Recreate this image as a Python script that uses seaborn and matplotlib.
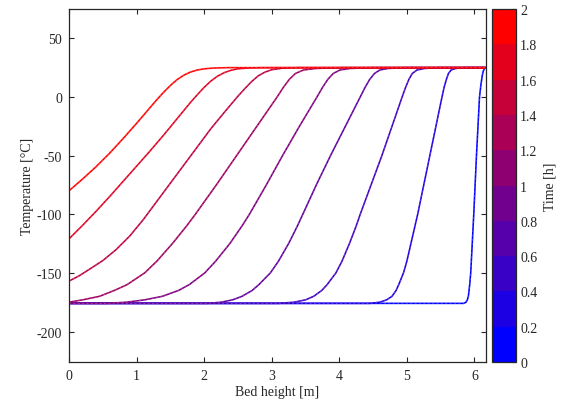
import numpy as np
import pandas as pd
import matplotlib
matplotlib.use("Agg")
import matplotlib.pyplot as plt
import seaborn as sns
from matplotlib.colors import ListedColormap, BoundaryNorm
from matplotlib.cm import ScalarMappable

# ---- data (bed height [m], temperature [degC]) ----
# curves ordered from earliest (blue) to latest (red)
x_c1 = [0.0, 5.84, 5.875, 5.895, 5.91, 5.93, 5.945, 5.99, 6.03, 6.075, 6.095, 6.115, 6.13, 6.15, 6.17]
t_c1 = [-176, -176, -175, -173, -170, -160, -150, -100, -50, 0, 10, 18, 22, 24.3, 25]

t_lv = [-176, -176, -175, -173, -170, -165, -160, -150, -140, -125, -110, -100, -75, -50, -25, 0, 8, 15, 20, 23, 24.3, 25, 25]

x_c2 = [0.0, 4.45, 4.60, 4.70, 4.78, 4.84, 4.88, 4.95, 5.00, 5.06, 5.12, 5.16, 5.25, 5.34, 5.43, 5.52, 5.55, 5.585, 5.615, 5.655, 5.72, 5.84, 6.17]
t_c2 = t_lv

x_c3 = [0.0, 3.10, 3.33, 3.50, 3.62, 3.74, 3.82, 3.95, 4.04, 4.15, 4.25, 4.31, 4.47, 4.63, 4.78, 4.93, 4.98, 5.03, 5.08, 5.15, 5.26, 5.47, 6.17]
t_c3 = t_lv

x_c4 = [0.0, 2.05, 2.25, 2.42, 2.56, 2.71, 2.81, 2.98, 3.10, 3.25, 3.38, 3.46, 3.66, 3.87, 4.09, 4.31, 4.38, 4.45, 4.52, 4.60, 4.72, 4.98, 6.17]
t_c4 = t_lv

x_c5 = [0.0, 0.55, 0.85, 1.12, 1.38, 1.62, 1.78, 2.01, 2.17, 2.38, 2.56, 2.67, 2.92, 3.16, 3.41, 3.67, 3.75, 3.83, 3.91, 4.01, 4.16, 4.50, 6.17]
t_c5 = t_lv

x_c6 = [0.0, 0.20, 0.45, 0.67, 0.86, 1.12, 1.30, 1.53, 1.74, 1.87, 2.18, 2.48, 2.78, 3.08, 3.17, 3.26, 3.35, 3.47, 3.65, 4.05, 6.17]
t_c6 = [-175, -173, -170, -165, -160, -150, -140, -125, -110, -100, -75, -50, -25, 0, 8, 15, 20, 23, 24.3, 25, 25]

x_c7 = [0.0, 0.15, 0.30, 0.50, 0.70, 0.90, 1.10, 1.30, 1.50, 1.70, 1.90, 2.10, 2.30, 2.49, 2.60, 2.70, 2.80, 2.90, 3.00, 3.15, 3.40, 6.17]
t_c7 = [-157, -152.5, -147, -139.5, -130, -118.5, -104.5, -89, -73.5, -58, -42.5, -27, -13, 0, 7, 13, 18, 21.2, 23.2, 24.5, 25, 25]

x_c8 = [0.0, 0.2, 0.4, 0.6, 0.8, 1.0, 1.2, 1.4, 1.6, 1.8, 1.9, 2.0, 2.1, 2.2, 2.3, 2.4, 2.5, 2.65, 2.85, 6.17]
t_c8 = [-121, -109.5, -97.5, -85, -72, -59, -46, -32.5, -18.5, -4.5, 2, 8.2, 13.6, 17.8, 20.8, 22.8, 24, 24.7, 25, 25]

x_c9 = [0.0, 0.2, 0.4, 0.6, 0.8, 1.0, 1.2, 1.3, 1.4, 1.5, 1.6, 1.7, 1.8, 1.9, 2.0, 2.15, 2.35, 6.17]
t_c9 = [-80, -70, -59.5, -48, -35.5, -22.5, -9, -2.3, 4, 9.8, 14.8, 18.6, 21.3, 23, 24, 24.7, 25, 25]

curves_x = [x_c1, x_c2, x_c3, x_c4, x_c5, x_c6, x_c7, x_c8, x_c9]
curves_t = [t_c1, t_c2, t_c3, t_c4, t_c5, t_c6, t_c7, t_c8, t_c9]

time_bounds = [0, 0.2, 0.4, 0.6, 0.8, 1.0, 1.2, 1.4, 1.6, 1.8, 2.0]
cbar_ticks = [0, 0.2, 0.4, 0.6, 0.8, 1, 1.2, 1.4, 1.6, 1.8, 2]
cbar_labels = ["0", "0.2", "0.4", "0.6", "0.8", "1", "1.2", "1.4", "1.6", "1.8", "2"]
x_ticks = [0, 1, 2, 3, 4, 5, 6]
y_ticks = [-200, -150, -100, -50, 0, 50]

# ---- styling ----
sns.set_theme(style="ticks")
plt.rcParams["font.family"] = ["Liberation Serif", "DejaVu Serif"]
plt.rcParams["axes.unicode_minus"] = False

fig = plt.figure(figsize=(5.69, 4.10), dpi=100)
ax = fig.add_axes([0.1213, 0.1146, 0.7327, 0.861])
cax = fig.add_axes([0.8647, 0.1146, 0.0422, 0.861])

n = len(curves_x)
line_colors = [(i / (n - 1), 0.0, 1 - i / (n - 1)) for i in range(n)]

for i, (xs, ts) in enumerate(zip(curves_x, curves_t)):
    df = pd.DataFrame({"x": xs, "T": ts})
    c = line_colors[i]
    tint = tuple(0.45 * v + 0.55 for v in c)
    sns.lineplot(data=df, x="x", y="T", ax=ax, color=c, lw=1.15,
                 sort=False, estimator=None, legend=False)
    sns.lineplot(data=df, x="x", y="T", ax=ax, color=tint, lw=0.45, alpha=0.6,
                 sort=False, estimator=None, legend=False,
                 linestyle=(0, (3, 4)))

ax.set_xlim(0, 6.17)
ax.set_ylim(-226, 75)
ax.set_xticks(x_ticks)
ax.set_yticks(y_ticks)
ax.set_xlabel("Bed height [m]", fontsize=10, labelpad=2, color="#262626")
ax.set_ylabel("Temperature [°C]", fontsize=10, labelpad=2, color="#262626")
ax.tick_params(direction="in", length=3.5, width=0.8, labelsize=10, colors="#262626",
               top=True, right=True, pad=5)
for s in ax.spines.values():
    s.set_linewidth(0.9)
    s.set_color("#262626")
    s.set_visible(True)

nb = len(time_bounds) - 1
cmap = ListedColormap([(k / (nb - 1), 0.0, 1 - k / (nb - 1)) for k in range(nb)])
norm = BoundaryNorm(time_bounds, cmap.N)
sm = ScalarMappable(norm=norm, cmap=cmap)
cb = fig.colorbar(sm, cax=cax, ticks=cbar_ticks)
cb.ax.set_yticklabels(cbar_labels)
cb.ax.tick_params(direction="in", length=3.5, width=0.8, labelsize=10, colors="#262626", pad=3)
cb.outline.set_linewidth(0.9)
cb.outline.set_edgecolor("#262626")
cb.set_label("Time [h]", fontsize=10, color="#262626", labelpad=4)

fig.savefig("out.png", dpi=100)
